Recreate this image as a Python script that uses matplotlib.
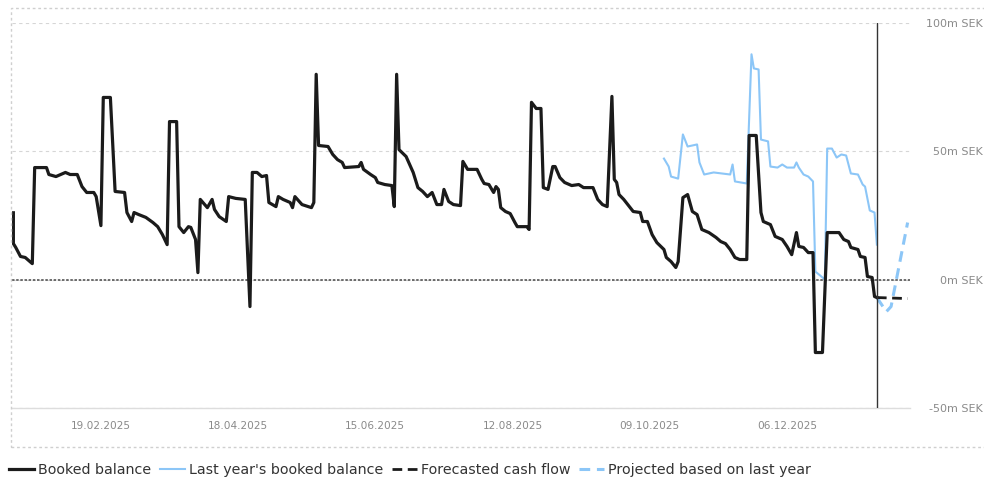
import numpy as np
import pandas as pd
import matplotlib
matplotlib.use('Agg')
import matplotlib.pyplot as plt
import matplotlib.dates as mdates
from matplotlib.patches import Rectangle

# ---- data (m SEK) ----
booked_dates = [
    "2025-01-13", "2025-01-13", "2025-01-14", "2025-01-16", "2025-01-18", "2025-01-19", "2025-01-21",
    "2025-01-22", "2025-01-27", "2025-01-28", "2025-01-31", "2025-02-04", "2025-02-06", "2025-02-09",
    "2025-02-11", "2025-02-13", "2025-02-16", "2025-02-17", "2025-02-19", "2025-02-20", "2025-02-23",
    "2025-02-25", "2025-03-01", "2025-03-02", "2025-03-04", "2025-03-05", "2025-03-07", "2025-03-10",
    "2025-03-13", "2025-03-15", "2025-03-17", "2025-03-19", "2025-03-20", "2025-03-23", "2025-03-24",
    "2025-03-26", "2025-03-28", "2025-03-29", "2025-03-31", "2025-04-01", "2025-04-02", "2025-04-05",
    "2025-04-07", "2025-04-08", "2025-04-10", "2025-04-13", "2025-04-14", "2025-04-17", "2025-04-21",
    "2025-04-23", "2025-04-24", "2025-04-26", "2025-04-28", "2025-04-30", "2025-05-01", "2025-05-04",
    "2025-05-05", "2025-05-07", "2025-05-10", "2025-05-11", "2025-05-12", "2025-05-15", "2025-05-19",
    "2025-05-20", "2025-05-21", "2025-05-22", "2025-05-26", "2025-05-28", "2025-05-30", "2025-06-01",
    "2025-06-02", "2025-06-08", "2025-06-09", "2025-06-10", "2025-06-13", "2025-06-15", "2025-06-16",
    "2025-06-19", "2025-06-22", "2025-06-23", "2025-06-24", "2025-06-25", "2025-06-28", "2025-07-01",
    "2025-07-03", "2025-07-05", "2025-07-07", "2025-07-09", "2025-07-11", "2025-07-13", "2025-07-14",
    "2025-07-16", "2025-07-18", "2025-07-21", "2025-07-22", "2025-07-24", "2025-07-28", "2025-07-30",
    "2025-07-31", "2025-08-02", "2025-08-04", "2025-08-05", "2025-08-06", "2025-08-07", "2025-08-09",
    "2025-08-11", "2025-08-13", "2025-08-14", "2025-08-18", "2025-08-19", "2025-08-20", "2025-08-22",
    "2025-08-24", "2025-08-25", "2025-08-27", "2025-08-29", "2025-08-30", "2025-09-01", "2025-09-03",
    "2025-09-06", "2025-09-09", "2025-09-11", "2025-09-15", "2025-09-17", "2025-09-19", "2025-09-21",
    "2025-09-23", "2025-09-24", "2025-09-25", "2025-09-26", "2025-09-28", "2025-10-02", "2025-10-05",
    "2025-10-06", "2025-10-08", "2025-10-10", "2025-10-12", "2025-10-15", "2025-10-16", "2025-10-18",
    "2025-10-20", "2025-10-21", "2025-10-23", "2025-10-25", "2025-10-27", "2025-10-29", "2025-10-31",
    "2025-11-03", "2025-11-06", "2025-11-08", "2025-11-10", "2025-11-12", "2025-11-14", "2025-11-16",
    "2025-11-19", "2025-11-20", "2025-11-23", "2025-11-25", "2025-11-26", "2025-11-29", "2025-12-01",
    "2025-12-04", "2025-12-06", "2025-12-08", "2025-12-10", "2025-12-11", "2025-12-13", "2025-12-15",
    "2025-12-17", "2025-12-18", "2025-12-21", "2025-12-23", "2025-12-28", "2025-12-30", "2026-01-01",
    "2026-01-02", "2026-01-05", "2026-01-06", "2026-01-08", "2026-01-09", "2026-01-11", "2026-01-12",
    "2026-01-13",
]
booked_values = [
    26, 14, 12.5, 9, 8.6, 7.8, 6.2,
    43.6, 43.6, 40.9, 40.1, 41.7, 40.9, 40.9,
    36.2, 33.9, 33.9, 32.3, 21.0, 70.9, 70.9,
    34.3, 33.9, 26.1, 22.6, 26.1, 25.3, 24.2,
    22.2, 20.6, 17.5, 13.6, 61.5, 61.5, 20.6,
    18.3, 20.6, 20.3, 15.6, 2.7, 31.2, 28.0,
    31.2, 27.3, 24.5, 22.6, 32.3, 31.6, 31.2,
    -10.5, 41.7, 41.7, 40.1, 40.5, 30.0, 28.4,
    32.3, 31.2, 30.0, 28.0, 32.3, 29.2, 28.0,
    30.0, 79.9, 52.2, 51.8, 48.7, 46.7, 45.6,
    43.6, 44.0, 45.6, 42.9, 40.9, 39.7, 37.8,
    37.0, 36.6, 28.4, 79.9, 50.6, 47.9, 41.7,
    35.8, 34.3, 32.3, 33.9, 29.2, 29.2, 35.1,
    30.4, 29.2, 28.8, 46.0, 42.9, 42.9, 39.0,
    37.4, 37.0, 33.9, 36.2, 35.1, 28.0, 26.5,
    25.7, 22.2, 20.6, 20.6, 19.5, 69.0, 66.6,
    66.6, 35.8, 35.1, 44.0, 44.0, 39.7, 37.8,
    36.6, 37.0, 35.8, 35.8, 31.2, 29.2, 28.4,
    71.3, 39.0, 37.8, 33.1, 31.2, 26.5, 26.1,
    22.6, 22.6, 17.5, 14.4, 11.7, 8.6, 7.0,
    4.7, 7.0, 31.9, 33.1, 26.5, 25.3, 19.5,
    18.3, 16.4, 14.8, 14.0, 11.7, 8.6, 7.8,
    7.8, 56.1, 56.1, 26.1, 22.6, 21.4, 16.8,
    15.6, 12.9, 9.7, 18.3, 12.9, 12.5, 10.5,
    10.5, -28.4, -28.4, 18.3, 18.3, 15.6, 14.8,
    12.5, 11.7, 9.0, 8.6, 1.2, 0.8, -6.6,
    -7.0,
]

last_year_dates = [
    "2025-10-15", "2025-10-17", "2025-10-18", "2025-10-21", "2025-10-23", "2025-10-25", "2025-10-27",
    "2025-10-29", "2025-10-30", "2025-11-01", "2025-11-05", "2025-11-12", "2025-11-13", "2025-11-14",
    "2025-11-19", "2025-11-21", "2025-11-22", "2025-11-24", "2025-11-25", "2025-11-28", "2025-11-29",
    "2025-12-02", "2025-12-04", "2025-12-06", "2025-12-09", "2025-12-10", "2025-12-11", "2025-12-13",
    "2025-12-15", "2025-12-17", "2025-12-18", "2025-12-20", "2025-12-22", "2025-12-23", "2025-12-25",
    "2025-12-27", "2025-12-29", "2025-12-31", "2026-01-02", "2026-01-05", "2026-01-07", "2026-01-08",
    "2026-01-10", "2026-01-12", "2026-01-13",
]
last_year_values = [
    47.1, 44.0, 40.1, 39.3, 56.5, 51.8, 52.2,
    52.6, 45.6, 40.9, 41.7, 40.9, 44.8, 38.2,
    37.4, 87.7, 82.2, 81.8, 54.5, 53.8, 44.0,
    43.6, 44.8, 43.6, 43.6, 45.6, 43.6, 40.9,
    40.1, 38.2, 3.1, 1.6, 0.0, 51.0, 51.0,
    47.5, 48.7, 48.3, 41.3, 40.9, 37.0, 36.2,
    26.9, 26.1, 13.6,
]

forecast_dates = ["2026-01-13", "2026-01-26"]
forecast_values = [-7.0, -7.4]

projected_dates = ["2026-01-13", "2026-01-17", "2026-01-19", "2026-01-26"]
projected_values = [-7.0, -12.5, -10.5, 22.2]

today = "2026-01-13"
tick_dates = ["2025-02-19", "2025-04-18", "2025-06-15", "2025-08-12", "2025-10-09", "2025-12-06"]
y_ticks = [-50, 0, 50, 100]
y_labels = ["-50m SEK", "0m SEK", "50m SEK", "100m SEK"]

# ---- figure ----
fig = plt.figure(figsize=(9.84, 4.79), dpi=100)
ax = fig.add_axes([12/984, 1 - 408/479, (910 - 12)/984, (408 - 22.7)/479])

# outer dashed frame
fig.add_artist(Rectangle((10.5/984, 1 - 447/479), 1.2, (447 - 8)/479, transform=fig.transFigure,
                         fill=False, edgecolor='#cfcfcf', lw=1, ls=(0, (2, 2))))

ax.plot(pd.to_datetime(booked_dates), booked_values, color='#1b1b1b', lw=2.3,
        solid_joinstyle='round', label='Booked balance', zorder=4)
ax.plot(pd.to_datetime(last_year_dates), last_year_values, color='#8cc6f7', lw=1.5,
        label="Last year's booked balance", zorder=3)
ax.plot(pd.to_datetime(forecast_dates), forecast_values, color='#1b1b1b', lw=2.0,
        ls=(0, (3.5, 2)), label='Forecasted cash flow', zorder=4)
ax.plot(pd.to_datetime(projected_dates), projected_values, color='#8cc6f7', lw=2.2,
        ls=(0, (3.5, 2.2)), label='Projected based on last year', zorder=3)

ax.axhline(0, color='#555555', lw=1.2, ls=(0, (1.5, 1)), zorder=2)
ax.axvline(pd.to_datetime(today), color='#333333', lw=1, zorder=5)

ax.set_xlim(pd.to_datetime("2025-01-12 10:00"), pd.to_datetime("2026-01-27"))
ax.set_ylim(-50, 100)

ax.set_xticks(pd.to_datetime(tick_dates))
ax.xaxis.set_major_formatter(mdates.DateFormatter('%d.%m.%Y'))
ax.set_yticks(y_ticks)
ax.set_yticklabels(y_labels)

ax.yaxis.tick_right()
ax.tick_params(axis='y', length=0, pad=52.4, labelsize=8, labelcolor='#8a8a8a')
for lab in ax.get_yticklabels():
    lab.set_horizontalalignment('right')
ax.tick_params(axis='x', length=0, pad=9.4, labelsize=7.6, labelcolor='#8a8a8a')

ax.grid(axis='y', color='#d6d6d6', lw=0.8, ls=(0, (3, 3)))
ax.grid(axis='x', visible=False)
for s in ['top', 'left', 'right']:
    ax.spines[s].set_visible(False)
ax.spines['bottom'].set_color('#dddddd')
ax.spines['bottom'].set_linewidth(1)
ax.spines['bottom'].set_position(('data', -50))

fig.legend(loc='center left', bbox_to_anchor=(9/984, 1 - 470/479), ncol=4, frameon=False,
           fontsize=10.3, labelcolor='#333333', handlelength=1.75, handletextpad=0.28,
           columnspacing=0.6, borderpad=0, borderaxespad=0)

fig.savefig('out.png', dpi=100)
